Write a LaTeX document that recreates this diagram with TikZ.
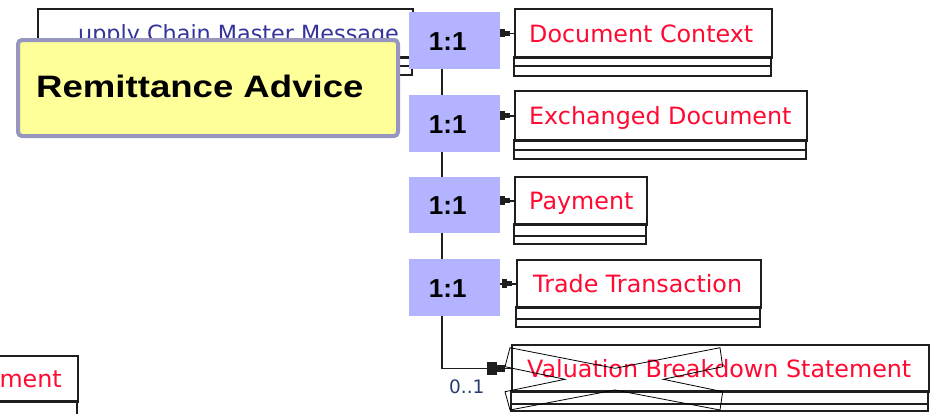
\documentclass[tikz,border=0pt]{standalone}
\usepackage{fontspec}
\usetikzlibrary{calc}
\newfontfamily\umlfont{DejaVu Sans}
\newfontfamily\labfont{Liberation Sans}
\definecolor{umlred}{RGB}{255,10,50}
\definecolor{umlblue}{RGB}{51,51,153}
\definecolor{cardblue}{RGB}{179,179,255}
\definecolor{noteyellow}{RGB}{255,255,153}
\definecolor{noteborder}{RGB}{150,150,190}
\definecolor{multcol}{RGB}{40,60,110}
\definecolor{boxline}{RGB}{30,30,30}
\begin{document}
\begin{tikzpicture}[x=1pt,y=-1pt,
 classbox/.style={draw=boxline, line width=1.9pt, fill=white, inner sep=0pt, anchor=north west},
 comp/.style={draw=boxline, line width=1.9pt},
 classname/.style={anchor=base west, inner sep=0pt, text=umlred, font=\umlfont\fontsize{23.8}{28}\selectfont},
 card/.style={fill=cardblue, inner sep=0pt, anchor=north west, minimum width=91pt},
 cardtext/.style={font=\labfont\bfseries\fontsize{26}{30}\selectfont, inner sep=0pt},
 conn/.style={draw=boxline, line width=1.8pt},
 tipfill/.style={fill=boxline},
 crossout/.style={draw=black, line width=0.8pt},
]
\useasboundingbox (0,0) rectangle (935,413);
\clip (0,0) rectangle (935,413);
\fill[white] (0,0) rectangle (935,413);

% Supply Chain Master Message (partly hidden)
\node[classbox, minimum width=375pt, minimum height=49pt] (scmm) at (37,8) {};
\draw[comp] (37,57) rectangle (412,66) (37,66) rectangle (412,75);
\node[classname, text=umlblue, font=\umlfont\fontsize{22.3}{26}\selectfont] (scmmt) at (78,41) {upply Chain Master Message};

% partial box bottom left
\node[classbox, minimum width=100pt, minimum height=46pt] (mbox) at (-23,355) {};
\draw[comp] (-23,401) rectangle (77,440);
\node[classname, anchor=base east] (mboxt) at (62,387) {ment};

% class boxes
\node[classbox, minimum width=257pt, minimum height=49pt] (dc) at (514,8) {};
\draw[comp] (514,57) rectangle (771,66) (514,66) rectangle (771,76);
\node[classname] (dct) at (529,42) {Document Context};

\node[classbox, minimum width=292pt, minimum height=50pt] (ed) at (514,90) {};
\draw[comp] (514,140) rectangle (806,150) (514,150) rectangle (806,159);
\node[classname] (edt) at (529,124) {Exchanged Document};

\node[classbox, minimum width=132pt, minimum height=48pt] (pay) at (514,176) {};
\draw[comp] (514,224) rectangle (646,236) (514,236) rectangle (646,244);
\node[classname] (payt) at (529,209) {Payment};

\node[classbox, minimum width=244pt, minimum height=48pt] (tt) at (516,259) {};
\draw[comp] (516,307) rectangle (760,319) (516,319) rectangle (760,327);
\node[classname] (ttt) at (533,292) {Trade Transaction};

\node[classbox, minimum width=417pt, minimum height=47pt] (vbs) at (511,344) {};
\draw[comp] (511,391) rectangle (928,404) (511,404) rectangle (928,411);
\node[classname] (vbst) at (527,377) {Valuation Breakdown Statement};
\draw[crossout] (510,347.7) -- (615,368.3) -- (720,347.7) -- (722.7,366.7) -- (663.3,379.3)
  -- (722.7,391.7) -- (720,410) -- (615,390) -- (510,410) -- (505,391.7) -- (565,379.3)
  -- (505,366.7) -- cycle;

% connectors
\coordinate (trtop) at (442,40);
\draw[conn] (trtop) |- (vbs.west);
\draw[conn] (dc.west -| trtop) -- (dc.west);
\draw[conn] (ed.west -| trtop) -- (ed.west);
\draw[conn] (pay.west -| trtop) -- (pay.west);
\draw[conn] (tt.west -| trtop) -- (tt.west);

% cardinality boxes
\node[card, minimum height=57pt] (c1) at (409,12) {};
\node[card, minimum height=57pt] (c2) at (409,95) {};
\node[card, minimum height=56pt] (c3) at (409,177) {};
\node[card, minimum height=57pt] (c4) at (409,259) {};
\foreach \c in {c1,c2,c3,c4}{
  \node[cardtext] at ($(\c.center)+(-7,0.5)$) {1:1};
}

% arrow tips
\foreach \b in {dc,ed,pay,tt}{
  \fill[tipfill] ($(\b.west)+(-14,-4.5)$) rectangle ($(\b.west)+(-9,4)$);
  \fill[tipfill] ($(\b.west)+(-9.5,-2.8)$) rectangle ($(\b.west)+(-4,2.5)$);
}
\fill[tipfill] ($(vbs.west)+(-24,-6.5)$) rectangle ($(vbs.west)+(-14,6.5)$);
\fill[tipfill] ($(vbs.west)+(-14.5,-3.5)$) rectangle ($(vbs.west)+(-6,3.5)$);
\node[anchor=base west, inner sep=0pt, text=multcol, font=\umlfont\fontsize{18.5}{22}\selectfont] (mult) at (449,393) {0..1};

% note
\node[draw=noteborder, line width=4pt, fill=noteyellow, rounded corners=4pt, minimum width=380pt, minimum height=96pt, anchor=north west, inner sep=0pt] (note) at (16,38) {};
\node[anchor=base west, inner sep=0pt, font=\labfont\bfseries\fontsize{31}{36}\selectfont] (notet) at (36,97) {\scalebox{1.18}[1]{Remittance Advice}};
\end{tikzpicture}
\end{document}
